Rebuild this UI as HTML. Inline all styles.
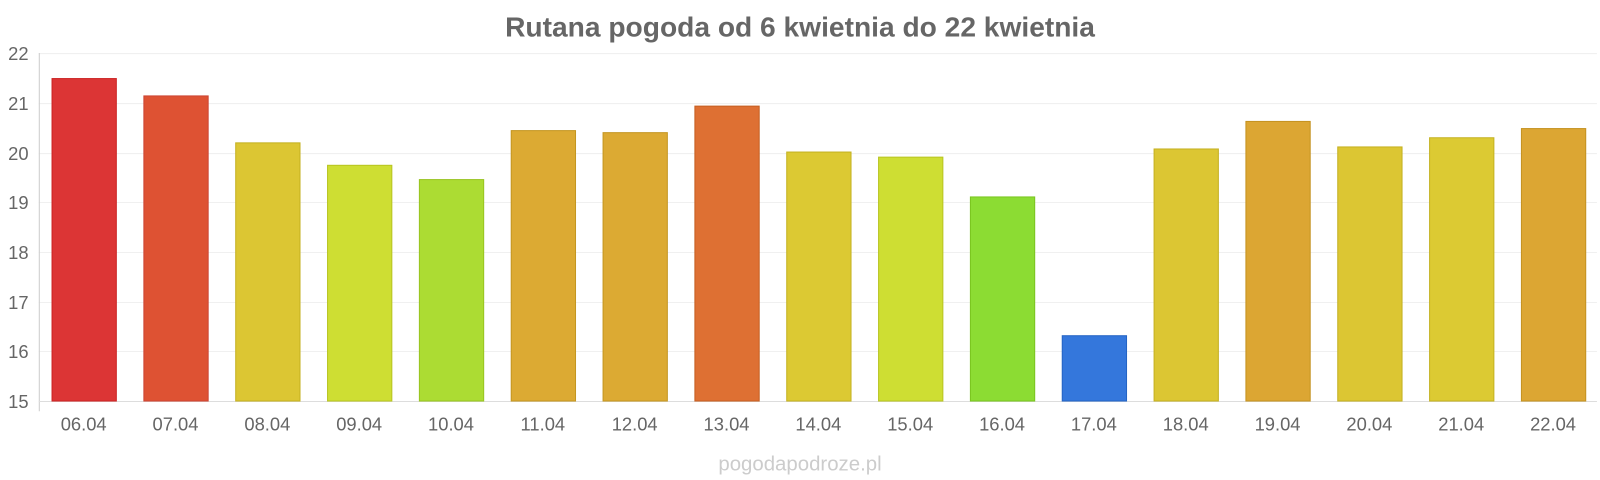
<!DOCTYPE html>
<html><head><meta charset="utf-8"><style>
body{margin:0;background:#fff;width:1600px;height:480px;overflow:hidden;font-family:"Liberation Sans",sans-serif}
svg{display:block}
</style></head><body>
<svg width="1600" height="480" viewBox="0 0 1568 470.4" preserveAspectRatio="none" xmlns="http://www.w3.org/2000/svg" font-family="Liberation Sans, sans-serif">
<text x="784" y="36" text-anchor="middle" font-size="27.6" font-weight="bold" fill="#666">Rutana pogoda od 6 kwietnia do 22 kwietnia</text>
<g stroke="#f0f0f0" stroke-width="1">
<line x1="38" x2="1565" y1="52.5" y2="52.5"/><line x1="38" x2="1565" y1="101.5" y2="101.5"/><line x1="38" x2="1565" y1="150.5" y2="150.5"/><line x1="38" x2="1565" y1="198.5" y2="198.5"/><line x1="38" x2="1565" y1="247.5" y2="247.5"/><line x1="38" x2="1565" y1="296.5" y2="296.5"/><line x1="38" x2="1565" y1="344.5" y2="344.5"/>
</g>
<line x1="38.5" x2="38.5" y1="52" y2="403" stroke="#ccc"/>
<line x1="38" x2="1565" y1="393.5" y2="393.5" stroke="#ddd"/>
<g font-size="18" fill="#666" text-anchor="end">
<text x="28" y="59">22</text><text x="28" y="108">21</text><text x="28" y="157">20</text><text x="28" y="205">19</text><text x="28" y="254">18</text><text x="28" y="303">17</text><text x="28" y="351">16</text><text x="28" y="400">15</text>
</g>
<g stroke-width="1">
<rect x="51" y="77" width="63" height="316" fill="#dc3535" stroke="#c22"/>
<rect x="141" y="94" width="63" height="299" fill="#de5233" stroke="#c43"/>
<rect x="231" y="140" width="63" height="253" fill="#dcc633" stroke="#c4b020"/>
<rect x="321" y="162" width="63" height="231" fill="#cede33" stroke="#b8c420"/>
<rect x="411" y="176" width="63" height="217" fill="#acdc33" stroke="#98c420"/>
<rect x="501" y="128" width="63" height="265" fill="#dcaa33" stroke="#c49620"/>
<rect x="591" y="130" width="63" height="263" fill="#dcaa33" stroke="#c49620"/>
<rect x="681" y="104" width="63" height="289" fill="#de7033" stroke="#c45e20"/>
<rect x="771" y="149" width="63" height="244" fill="#dcc933" stroke="#c4b220"/>
<rect x="861" y="154" width="63" height="239" fill="#cede33" stroke="#b8c420"/>
<rect x="951" y="193" width="63" height="200" fill="#8cdc33" stroke="#7ac420"/>
<rect x="1041" y="329" width="63" height="64" fill="#3477dc" stroke="#2464c4"/>
<rect x="1131" y="146" width="63" height="247" fill="#dcc633" stroke="#c4b020"/>
<rect x="1221" y="119" width="63" height="274" fill="#dca633" stroke="#c49220"/>
<rect x="1311" y="144" width="63" height="249" fill="#dcc633" stroke="#c4b020"/>
<rect x="1401" y="135" width="63" height="258" fill="#dcca33" stroke="#c4b220"/>
<rect x="1491" y="126" width="63" height="267" fill="#dca633" stroke="#c49220"/>
</g>
<g font-size="18" fill="#666" text-anchor="middle">
<text x="82" y="422">06.04</text><text x="172" y="422">07.04</text><text x="262" y="422">08.04</text><text x="352" y="422">09.04</text><text x="442" y="422">10.04</text><text x="532" y="422">11.04</text><text x="622" y="422">12.04</text><text x="712" y="422">13.04</text><text x="802" y="422">14.04</text><text x="892" y="422">15.04</text><text x="982" y="422">16.04</text><text x="1072" y="422">17.04</text><text x="1162" y="422">18.04</text><text x="1252" y="422">19.04</text><text x="1342" y="422">20.04</text><text x="1432" y="422">21.04</text><text x="1522" y="422">22.04</text>
</g>
<text x="784" y="461" text-anchor="middle" font-size="20" fill="#ccc">pogodapodroze.pl</text>
</svg>
</body></html>
